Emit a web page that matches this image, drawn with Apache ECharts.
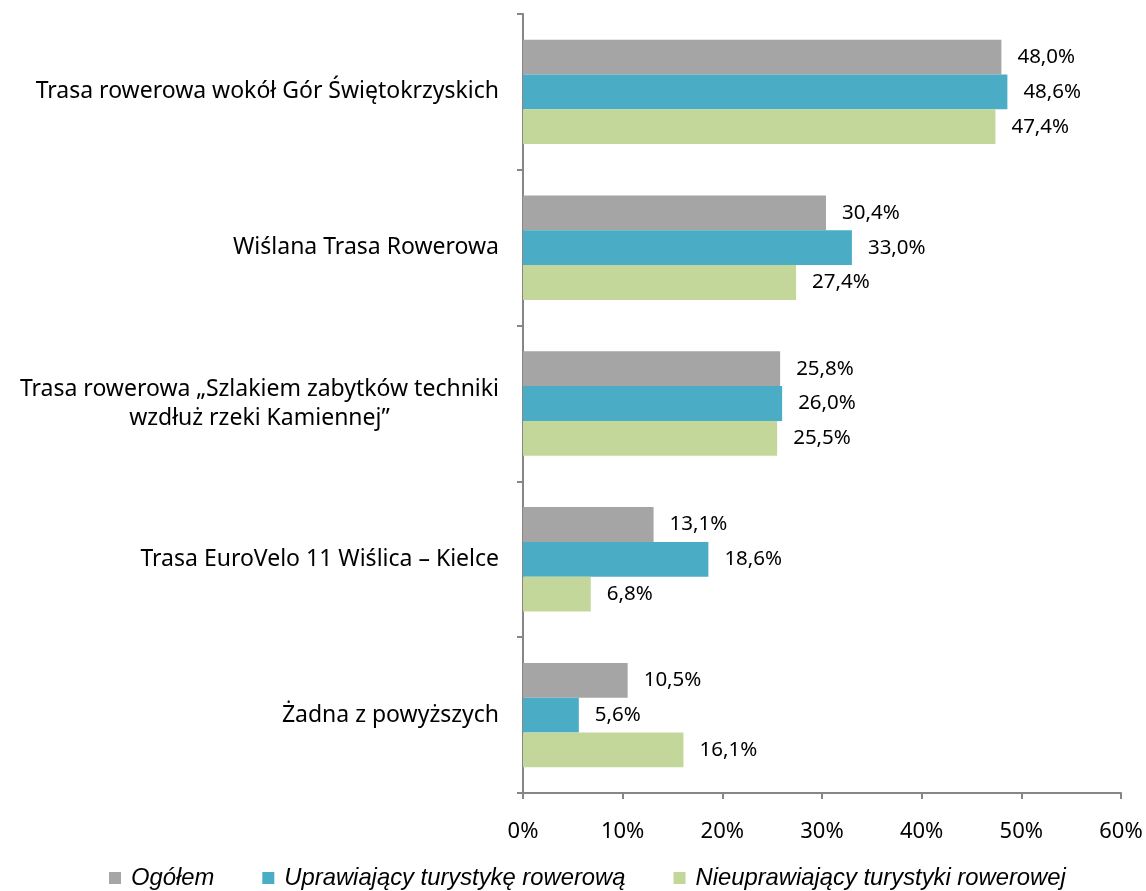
<!DOCTYPE html>
<html>
<head>
<meta charset="utf-8">
<script src="https://cdn.jsdelivr.net/npm/echarts@6/dist/echarts.min.js"></script>
<style>
  html, body { margin: 0; padding: 0; background: #fff; }
  #chart { width: 1146px; height: 891px; }
</style>
</head>
<body>
<div id="chart"></div>
<script>
const categories = [
  'Trasa rowerowa wokół Gór Świętokrzyskich',
  'Wiślana Trasa Rowerowa',
  'Trasa rowerowa „Szlakiem zabytków techniki\nwzdłuż rzeki Kamiennej”',
  'Trasa EuroVelo 11 Wiślica – Kielce',
  'Żadna z powyższych'
]
const seriesNames = ['Ogółem', 'Uprawiający turystykę rowerową', 'Nieuprawiający turystyki rowerowej']
const ogolem = [48.0, 30.4, 25.8, 13.1, 10.5]
const uprawiajacy = [48.6, 33.0, 26.0, 18.6, 5.6]
const nieuprawiajacy = [47.4, 27.4, 25.5, 6.8, 16.1]
const xTicks = [0, 10, 20, 30, 40, 50, 60]

const colors = ['#A5A5A5', '#4BACC6', '#C4D79B']
const font = 'Noto Sans'

const chart = echarts.init(document.getElementById('chart'))

const labelFmt = p => p.value.toFixed(1).replace('.', ',') + '%'

const mkSeries = (name, data, i) => ({
  name: name,
  type: 'bar',
  data: data,
  barGap: '0%',
  barCategoryGap: '33%',
  itemStyle: {color: colors[i]},
  label: {
    show: true,
    position: 'right',
    distance: 16,
    formatter: labelFmt,
    color: '#000',
    fontFamily: font,
    fontSize: 20.5
  }
})

chart.setOption({
  animation: false,
  grid: {left: 523, right: 25, top: 14, bottom: 98, containLabel: false},
  legend: {
    top: 866,
    left: 109,
    padding: 0,
    itemWidth: 12,
    itemHeight: 12,
    itemGap: 48,
    icon: 'rect',
    textStyle: {fontFamily: 'Liberation Sans', fontStyle: 'italic', fontSize: 23.8, lineHeight: 24, color: '#000', padding: [0, 0, 0, 5]},
    data: seriesNames
  },
  xAxis: {
    type: 'value',
    min: xTicks[0],
    max: xTicks[xTicks.length - 1],
    interval: 10,
    axisLine: {show: true, lineStyle: {color: '#868686', width: 2}},
    axisTick: {show: true, length: 6, lineStyle: {color: '#868686', width: 2}},
    splitLine: {show: false},
    axisLabel: {
      formatter: v => v + '%',
      color: '#000',
      fontFamily: font,
      fontSize: 22,
      margin: 28
    }
  },
  yAxis: {
    type: 'category',
    inverse: true,
    data: categories,
    axisLine: {show: true, lineStyle: {color: '#868686', width: 2}},
    axisTick: {show: true, length: 6, lineStyle: {color: '#868686', width: 2}},
    axisLabel: {
      color: '#000',
      fontFamily: font,
      fontSize: 23,
      margin: 24,
      lineHeight: 29,
      formatter: v => '{c|' + v.split('\n').join('}\n{c|') + '}',
      rich: {c: {align: 'center', fontFamily: font, fontSize: 23, color: '#000', lineHeight: 29}}
    }
  },
  series: [
    mkSeries(seriesNames[0], ogolem, 0),
    mkSeries(seriesNames[1], uprawiajacy, 1),
    mkSeries(seriesNames[2], nieuprawiajacy, 2)
  ]
})
</script>
</body>
</html>
